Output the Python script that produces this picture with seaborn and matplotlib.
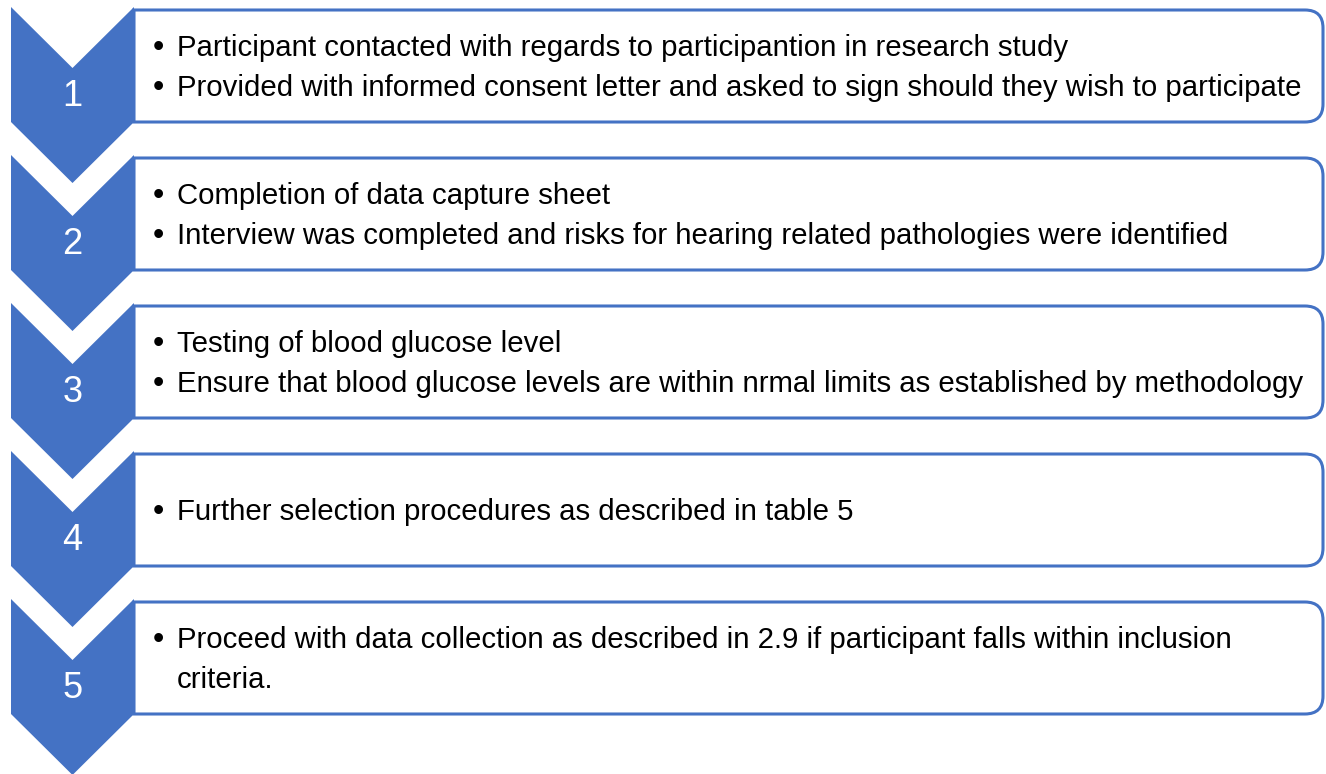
import seaborn as sns
import matplotlib.pyplot as plt
from matplotlib.patches import Polygon, PathPatch
from matplotlib.path import Path

# step labels and the bullet text of each step
steps = ["1", "2", "3", "4", "5"]
step_items = [
    ["Participant contacted with regards to participantion in research study",
     "Provided with informed consent letter and asked to sign should they wish to participate"],
    ["Completion of data capture sheet",
     "Interview was completed and risks for hearing related pathologies were identified"],
    ["Testing of blood glucose level",
     "Ensure that blood glucose levels are within nrmal limits as established by methodology"],
    ["Further selection procedures as described in table 5"],
    ["Proceed with data collection as described in 2.9 if participant falls within inclusion\ncriteria."],
]

sns.set_theme(style="white")
plt.rcParams["font.family"] = ["Liberation Sans", "DejaVu Sans"]

blue = "#4472C4"
W, H = 1326, 774
fig = plt.figure(figsize=(13.26, 7.74), dpi=100)
ax = fig.add_axes([0, 0, 1, 1])
ax.set_xlim(0, W)
ax.set_ylim(H, 0)
ax.axis("off")

# layout (pixels)
pitch = 148
top0 = 7
cx0, cx1 = 11, 134
notch = 61
body = 115
box_right = 1323
rad = 18
line_gap = 40
txt_x = 177
bullet_x = 153

# fit the text size so the longest line fills the box like the original
fs = 20
renderer = fig.canvas.get_renderer()
longest = max((l for it in step_items for s in it for l in s.split("\n")), key=len)
probe = ax.text(0, 0, longest, fontsize=fs)
wpx = probe.get_window_extent(renderer).width
probe.remove()
fs = fs * min(1.15, 1122 / wpx)

for i, s in enumerate(steps):
    t = top0 + i * pitch
    xm = (cx0 + cx1) / 2
    pts = [(cx0, t), (xm, t + notch), (cx1, t), (cx1, t + body),
           (xm, t + body + notch), (cx0, t + body)]
    ax.add_patch(Polygon(pts, closed=True, fc=blue, ec="none", zorder=1))
    ax.text(xm, t + (notch + body) / 2 + 1, s, color="white", fontsize=26,
            ha="center", va="center", zorder=3)

    # box with rounded right corners
    bt, bb = t + 3, t + body
    verts = [(cx1, bt), (box_right - rad, bt), (box_right, bt), (box_right, bt + rad),
             (box_right, bb - rad), (box_right, bb), (box_right - rad, bb),
             (cx1, bb), (cx1, bt)]
    codes = [Path.MOVETO, Path.LINETO, Path.CURVE3, Path.CURVE3, Path.LINETO,
             Path.CURVE3, Path.CURVE3, Path.LINETO, Path.CLOSEPOLY]
    ax.add_patch(PathPatch(Path(verts, codes), fc="white", ec=blue, lw=2.2, zorder=2))

    lines = []
    for item in step_items[i]:
        for k, l in enumerate(item.split("\n")):
            lines.append((k == 0, l))
    yc = (bt + bb) / 2 - (len(lines) - 1) * line_gap / 2
    for j, (first, l) in enumerate(lines):
        y = yc + j * line_gap + 10
        if first:
            ax.text(bullet_x, y, "\u2022", fontsize=fs * 1.1, color="black", va="baseline", zorder=3)
        ax.text(txt_x, y, l, fontsize=fs, color="black", va="baseline", zorder=3)

fig.savefig("out.png", dpi=100, facecolor="white")
